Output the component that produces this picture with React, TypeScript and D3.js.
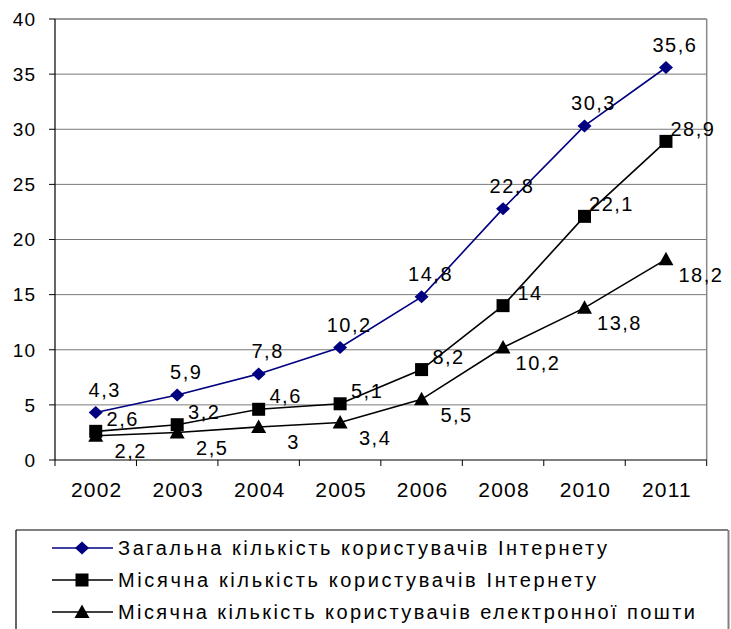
import React from 'react';
import * as d3 from 'd3';

const years = ['2002', '2003', '2004', '2005', '2006', '2008', '2010', '2011'];
const totalUsers = [4.3, 5.9, 7.8, 10.2, 14.8, 22.8, 30.3, 35.6];
const monthlyUsers = [2.6, 3.2, 4.6, 5.1, 8.2, 14, 22.1, 28.9];
const monthlyEmail = [2.2, 2.5, 3, 3.4, 5.5, 10.2, 13.8, 18.2];
const yTicks = [0, 5, 10, 15, 20, 25, 30, 35, 40];
const seriesNames = [
  'Загальна кількість користувачів Інтернету',
  'Місячна кількість користувачів Інтернету',
  'Місячна кількість користувачів електронної пошти',
];

const W = 731;
const H = 629;
const left = 55;
const right = 706.7;
const top = 19;
const bottom = 460;
const FONT = '"Liberation Sans", Arial, "DejaVu Sans", sans-serif';

type Marker = 'diamond' | 'square' | 'triangle';

function MarkerShape({ kind, x, y, color }: { kind: Marker; x: number; y: number; color: string }) {
  if (kind === 'diamond') {
    return <path d={`M${x},${y - 6.5} L${x + 7},${y} L${x},${y + 6.5} L${x - 7},${y} Z`} fill={color} />;
  }
  if (kind === 'square') {
    return <rect x={x - 6.5} y={y - 6.5} width={13} height={13} fill={color} />;
  }
  return <path d={`M${x},${y - 7.5} L${x + 7.5},${y + 6} L${x - 7.5},${y + 6} Z`} fill={color} />;
}

export default function App() {
  const x = d3.scaleBand<string>().domain(years).range([left, right]).padding(0);
  const y = d3.scaleLinear().domain([0, 40]).range([bottom, top]);
  const cx = (yr: string) => (x(yr) as number) + x.bandwidth() / 2;
  const fmt = (v: number) => String(v).replace('.', ',');

  const series = [
    { name: seriesNames[0], values: totalUsers, color: '#000080', marker: 'diamond' as Marker, dx: 9, dy: -23, tl: 489 },
    { name: seriesNames[1], values: monthlyUsers, color: '#000000', marker: 'square' as Marker, dx: 27, dy: -13, tl: 478 },
    { name: seriesNames[2], values: monthlyEmail, color: '#000000', marker: 'triangle' as Marker, dx: 35, dy: 15, tl: 577 },
  ];

  const line = d3
    .line<number>()
    .x((_, i) => cx(years[i]))
    .y((d) => y(d));

  const legendTop = 530;
  const legendRows = [548, 580, 612];
  const boundaries = years.map((yr) => x(yr) as number).concat([right]);

  return (
    <svg
      width={W}
      height={H}
      style={{ position: 'absolute', left: 0, top: 0, background: '#fff' }}
      fontFamily={FONT}
    >
      <rect x={0} y={0} width={W} height={H} fill="#fff" />
      {yTicks.filter((t) => t > 0).map((t) => (
        <line key={'g' + t} x1={left} x2={right} y1={y(t)} y2={y(t)} stroke="#7a7a7a" strokeWidth={t === 40 ? 1.5 : 1} />
      ))}
      <line x1={right} x2={right} y1={top} y2={bottom} stroke="#8a8a8a" strokeWidth={1.5} />
      <line x1={left} x2={left} y1={top} y2={bottom} stroke="#000" strokeWidth={1.2} />
      <line x1={left} x2={right} y1={bottom} y2={bottom} stroke="#000" strokeWidth={1.2} />
      {yTicks.map((t) => (
        <g key={'yt' + t}>
          <line x1={left - 6} x2={left} y1={y(t)} y2={y(t)} stroke="#000" strokeWidth={1} />
          <text x={36} y={y(t)} dy="0.36em" textAnchor="end" fontSize={19} letterSpacing={1} fill="#000">
            {t}
          </text>
        </g>
      ))}
      {boundaries.map((b, i) => (
        <line key={'xt' + i} x1={b} x2={b} y1={bottom} y2={bottom + 6} stroke="#000" strokeWidth={1} />
      ))}
      {years.map((yr) => (
        <text key={'xl' + yr} x={cx(yr) + 1} y={497} textAnchor="middle" fontSize={21} letterSpacing={1.2} fill="#000">
          {yr}
        </text>
      ))}
      {series.map((s) => (
        <path key={'l' + s.name} d={line(s.values) || ''} fill="none" stroke={s.color} strokeWidth={1.6} />
      ))}
      {series.map((s) =>
        s.values.map((v, i) => (
          <MarkerShape key={s.name + i} kind={s.marker} x={cx(years[i])} y={y(v)} color={s.color} />
        ))
      )}
      {series.map((s) =>
        s.values.map((v, i) => (
          <text
            key={'dl' + s.name + i}
            x={cx(years[i]) + s.dx}
            y={y(v) + s.dy}
            dy="0.36em"
            textAnchor="middle"
            fontSize={20}
            letterSpacing={1.5}
            fill="#000"
          >
            {fmt(v)}
          </text>
        ))
      )}
      <line x1={16} x2={728} y1={legendTop} y2={legendTop} stroke="#000" strokeWidth={1.2} />
      <line x1={16} x2={16} y1={legendTop} y2={H + 2} stroke="#000" strokeWidth={1.2} />
      <line x1={728.5} x2={728.5} y1={legendTop} y2={H + 2} stroke="#808080" strokeWidth={2} />
      {series.map((s, i) => (
        <g key={'lg' + i}>
          <line x1={52} x2={113} y1={legendRows[i]} y2={legendRows[i]} stroke={s.color} strokeWidth={1.6} />
          <MarkerShape kind={s.marker} x={82} y={legendRows[i]} color={s.color} />
          <text
            x={118}
            y={legendRows[i]}
            dy="0.36em"
            fontSize={20}
            textLength={s.tl}
            lengthAdjust="spacing"
            fill="#000"
          >
            {s.name}
          </text>
        </g>
      ))}
    </svg>
  );
}
